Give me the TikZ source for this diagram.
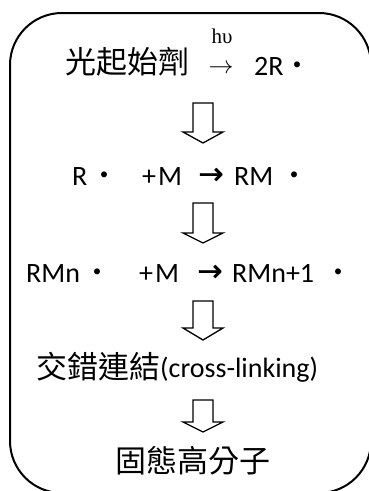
\documentclass[tikz,border=0pt]{standalone}
\usepackage{fontspec}
\setmainfont{Carlito}
\newfontfamily\cjk{Noto Sans CJK TC}
\newfontfamily\dvb{DejaVu Sans}[FakeBold=1.5]
\newfontfamily\ser{Liberation Serif}
\begin{document}
\begin{tikzpicture}[x=1pt,y=-1pt,
  lat/.style={inner sep=0pt, font=\fontsize{28}{28}\selectfont},
  cj/.style={inner sep=0pt, font=\cjk\fontsize{31}{31}\selectfont},
  barr/.style={inner sep=0pt, font=\dvb\fontsize{30}{30}\selectfont},
  blockarrow/.style={draw, line width=1.3pt, fill=white, line join=miter}]
\useasboundingbox (0,0) rectangle (369,491);
\begin{scope}
  \clip (0,0) rectangle (369,491);
  \draw[line width=2pt, rounded corners=52pt] (10,13) rectangle (371,493);
\end{scope}
% line 1
\node[cj] (init) at (128,62) {光起始劑};
\node[inner sep=0pt, font=\fontsize{28}{28}\selectfont, anchor=base] (arr0) at (221,73) {$\rightarrow$};
\node[inner sep=0pt, font=\ser\fontsize{21}{21}\selectfont, anchor=base] (hv) at (222,43) {hυ};
\node[lat, anchor=base west] (r2) at (254,75) {2R\cjk{・}};
% line 2
\node[lat, anchor=base west] (l2a) at (72,185) {R\kern3pt\cjk{・}};
\node[lat, anchor=base west] (l2b) at (142,185) {+\kern2pt M};
\node[barr] (l2c) at (211,176) {→};
\node[lat, anchor=base west] (l2d) at (234,185) {RM\kern7pt\cjk{・}};
% line 3
\node[lat, anchor=base west] (l3a) at (26,282) {RMn\kern3pt\cjk{・}};
\node[lat, anchor=base west] (l3b) at (139,282) {+\kern2pt M};
\node[barr] (l3c) at (210,273) {→};
\node[lat, anchor=base west] (l3d) at (232,282) {RMn+1\kern10pt\cjk{・}};
% line 4
\node[cj] (l4a) at (99,367) {交錯連結};
\node[lat, anchor=base west] (l4b) at (160,377) {(cross-linking)};
% line 5
\node[cj] (l5) at (193,461) {固態高分子};
% block arrows
\foreach \t/\b/\p in {103/132/143, 203/233/243, 301/328/340, 400/422/432}{
  \draw[blockarrow] (193,\t) -- (213,\t) -- (213,\b) -- (223,\b) -- (203,\p) -- (183,\b) -- (193,\b) -- cycle;
}
\end{tikzpicture}
\end{document}
